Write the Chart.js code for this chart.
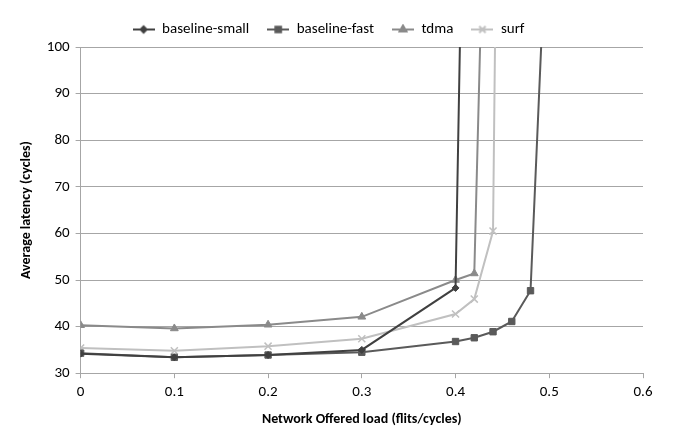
<!DOCTYPE html>
<html>
<head>
<meta charset="utf-8">
<script src="https://cdn.jsdelivr.net/npm/chart.js@4"></script>
<style>
  html, body { margin: 0; padding: 0; background: #ffffff; }
  #wrap { width: 675px; height: 439px; position: relative; }
</style>
</head>
<body>
<div id="wrap"><canvas id="latencyChart"></canvas></div>
<script>
// series (x = offered load, y = average latency)
const seriesNames = ["baseline-small", "baseline-fast", "tdma", "surf"];
const smallLoad = [0, 0.1, 0.2, 0.3, 0.4, 0.41];
const smallLatency = [34.2, 33.4, 33.9, 35.0, 48.3, 160];
const fastLoad = [0, 0.1, 0.2, 0.3, 0.4, 0.42, 0.44, 0.46, 0.48, 0.5];
const fastLatency = [34.3, 33.4, 33.9, 34.5, 36.8, 37.6, 38.9, 41.1, 47.7, 140];
const tdmaLoad = [0, 0.1, 0.2, 0.3, 0.4, 0.42, 0.43];
const tdmaLatency = [40.3, 39.6, 40.4, 42.1, 50.0, 51.4, 130];
const surfLoad = [0, 0.1, 0.2, 0.3, 0.4, 0.42, 0.44, 0.45];
const surfLatency = [35.4, 34.8, 35.8, 37.4, 42.7, 45.9, 60.5, 250];

const colors = ["#404040", "#5a5a5a", "#8a8a8a", "#c0c0c0"];
const markers = ["rectRot", "rect", "triangle", "crossRot"];
const radii = [3.5, 4.5, 4.5, 5];

function toPoints(xs, ys) {
  return xs.map((x, i) => ({ x: x, y: ys[i] }));
}

const datasets = [
  toPoints(smallLoad, smallLatency),
  toPoints(fastLoad, fastLatency),
  toPoints(tdmaLoad, tdmaLatency),
  toPoints(surfLoad, surfLatency),
].map((pts, i) => ({
  label: seriesNames[i],
  data: pts,
  borderColor: colors[i],
  backgroundColor: colors[i],
  borderWidth: 2,
  pointStyle: markers[i],
  pointRadius: radii[i],
  pointBorderWidth: i === 3 ? 1.5 : 1,
  pointBackgroundColor: colors[i],
  pointBorderColor: colors[i],
  tension: 0,
}));

// small legend swatch: line with the marker in the middle
function legendSwatch(i) {
  const c = document.createElement("canvas");
  c.width = 22;
  c.height = 12;
  const g = c.getContext("2d");
  g.strokeStyle = colors[i];
  g.fillStyle = colors[i];
  g.lineWidth = 2;
  g.beginPath();
  g.moveTo(0, 6);
  g.lineTo(22, 6);
  g.stroke();
  Chart.helpers.drawPoint(g, {
    pointStyle: markers[i],
    radius: radii[i] - 0.5,
    borderWidth: i === 3 ? 1.5 : 1,
    rotation: 0,
  }, 11, 6);
  return c;
}

const fontFamily = "Carlito, Lato, 'Open Sans', sans-serif";

new Chart(document.getElementById("latencyChart"), {
  type: "line",
  data: { datasets: datasets },
  options: {
    responsive: true,
    maintainAspectRatio: false,
    animation: false,
    layout: { padding: { top: 4, right: 32, left: 14, bottom: 7 } },
    plugins: {
      legend: {
        position: "top",
        labels: {
          usePointStyle: true,
          pointStyleWidth: 22,
          boxHeight: 12,
          padding: 18,
          color: "#000",
          font: { family: fontFamily, size: 15 },
          generateLabels: (chart) =>
            chart.data.datasets.map((ds, i) => ({
              text: ds.label,
              pointStyle: legendSwatch(i),
              fillStyle: colors[i],
              strokeStyle: colors[i],
              lineWidth: 0,
              datasetIndex: i,
            })),
        },
      },
      tooltip: { enabled: false },
    },
    scales: {
      x: {
        type: "linear",
        min: 0,
        max: 0.6,
        ticks: {
          stepSize: 0.1,
          color: "#000",
          font: { family: fontFamily, size: 15 },
          callback: (v) => String(Math.round(v * 10) / 10),
          maxRotation: 0,
          padding: 5,
        },
        grid: { drawOnChartArea: false, color: "#a6a6a6", tickLength: 5 },
        border: { color: "#a6a6a6" },
        title: {
          display: true,
          text: "Network Offered load (flits/cycles)",
          color: "#000",
          font: { family: fontFamily, size: 14, weight: "bold" },
          padding: { top: 5 },
        },
      },
      y: {
        min: 30,
        max: 100,
        ticks: {
          stepSize: 10,
          color: "#000",
          font: { family: fontFamily, size: 15 },
          padding: 6,
        },
        grid: { color: "#a6a6a6", tickLength: 5 },
        border: { color: "#a6a6a6" },
        title: {
          display: true,
          text: "Average latency (cycles)",
          color: "#000",
          font: { family: fontFamily, size: 14, weight: "bold" },
          padding: { bottom: 6 },
        },
      },
    },
  },
});
</script>
</body>
</html>
